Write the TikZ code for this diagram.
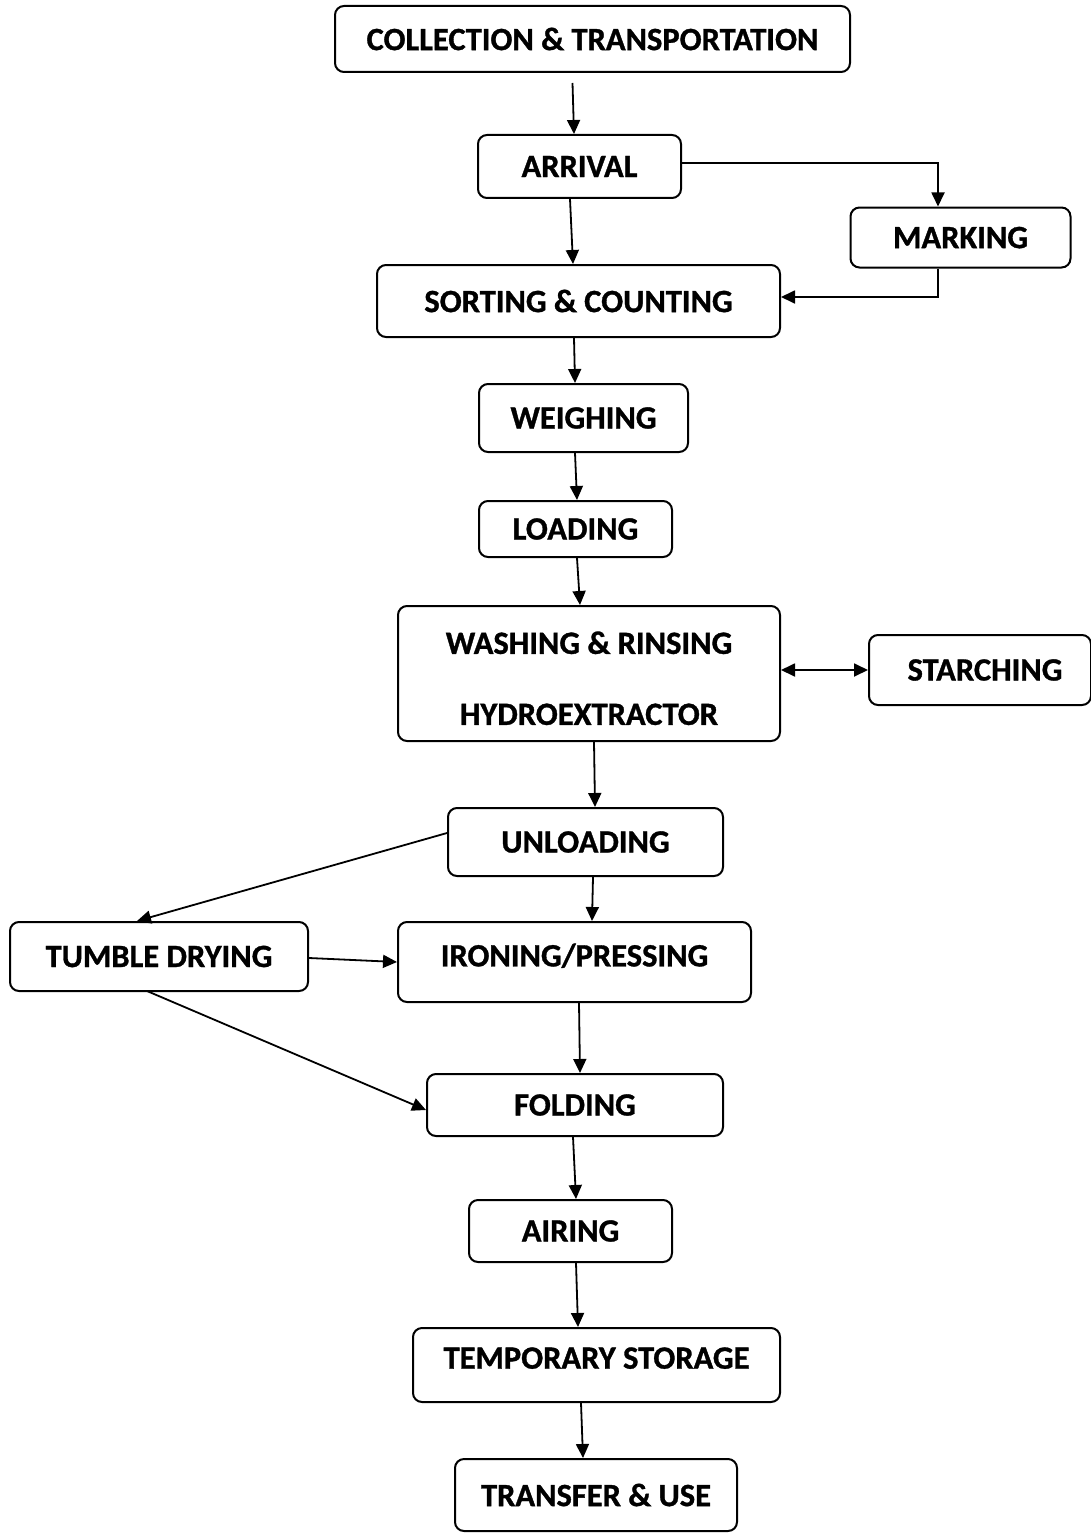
\documentclass[tikz,border=0pt]{standalone}
\usepackage{fontspec}
\setmainfont{Carlito}[BoldFeatures={FakeBold=1}]
\usetikzlibrary{arrows.meta}

\begin{document}
\begin{tikzpicture}[
  x=1pt,y=-1pt,
  stage/.style={draw,rounded corners=9pt,line width=2pt,inner sep=0pt,
    align=center,font=\fontsize{32.5}{39}\selectfont\bfseries},
  flow/.style={line width=1.8pt,-{Triangle[length=14pt,width=13pt]}},
]
\useasboundingbox (0,0) rectangle (1091,1533);
\node[stage,minimum width=515,minimum height=66] (coll) at (592.5,39) {COLLECTION \& TRANSPORTATION};
\node[stage,minimum width=203,minimum height=63] (arrival) at (579.5,166.5) {ARRIVAL};
\node[stage,minimum width=220,minimum height=60,text depth=-6pt] (marking) at (960.5,237.5) {MARKING};
\node[stage,minimum width=403,minimum height=72] (sorting) at (578.5,301) {SORTING \& COUNTING};
\node[stage,minimum width=209,minimum height=68] (weighing) at (583.5,418) {WEIGHING};
\node[stage,minimum width=193,minimum height=56] (loading) at (575.5,529) {LOADING};
\node[stage,minimum width=382,minimum height=135] (washing) at (589,673.5) {\rule{0pt}{32pt}WASHING \& RINSING\\[32pt]HYDROEXTRACTOR};
\node[stage,minimum width=222,minimum height=70] (starching) at (980,670) {\hspace{10pt}STARCHING};
\node[stage,minimum width=275,minimum height=68] (unloading) at (585.5,842) {UNLOADING};
\node[stage,minimum width=298,minimum height=69] (tumble) at (159,956.5) {TUMBLE DRYING};
\node[stage,minimum width=353,minimum height=80,text depth=14pt] (ironing) at (574.5,962) {IRONING/PRESSING};
\node[stage,minimum width=296,minimum height=62] (folding) at (575,1105) {FOLDING};
\node[stage,minimum width=203,minimum height=62] (airing) at (570.5,1231) {AIRING};
\node[stage,minimum width=367,minimum height=74,text depth=14pt] (storage) at (596.5,1365) {TEMPORARY STORAGE};
\node[stage,minimum width=282,minimum height=72] (transfer) at (596,1495) {TRANSFER \& USE};

% main line
\draw[flow] ([xshift=-20pt,yshift=-10pt]coll.south) -- ([xshift=-5.5pt]arrival.north);
\draw[flow] ([yshift=3.5pt]arrival.east) -| ([xshift=-22.5pt]marking.north);
\draw[flow] ([xshift=-22.5pt]marking.south) |- ([yshift=4pt]sorting.east);
\draw[flow] ([xshift=-9.5pt]arrival.south) -- ([xshift=-5.5pt]sorting.north);
\draw[flow] ([xshift=-4.5pt]sorting.south) -- ([xshift=-8.5pt]weighing.north);
\draw[flow] ([xshift=-8.5pt]weighing.south) -- ([xshift=1.5pt]loading.north);
\draw[flow] ([xshift=1.5pt]loading.south) -- ([xshift=-9pt]washing.north);
\draw[flow,{Triangle[length=14pt,width=13pt]}-{Triangle[length=14pt,width=13pt]}] ([yshift=3.5pt]washing.east) -- (starching.west);
\draw[flow] ([xshift=5pt]washing.south) -- ([xshift=9.5pt]unloading.north);
% drying branch
\draw[flow] ([yshift=9pt]unloading.west) -- ([xshift=-22pt]tumble.north);
\draw[flow] ([xshift=7.5pt]unloading.south) -- ([xshift=17.5pt]ironing.north);
\draw[flow] ([yshift=-1.5pt]tumble.east) -- (ironing.west);
\draw[flow] ([xshift=-12pt,yshift=1pt]tumble.south) -- ([yshift=-5pt]folding.west);
\draw[flow] ([xshift=4.5pt]ironing.south) -- ([xshift=5pt]folding.north);
\draw[flow] ([xshift=-2pt]folding.south) -- ([xshift=5.5pt]airing.north);
\draw[flow] ([xshift=5.5pt]airing.south) -- ([xshift=-18.5pt]storage.north);
\draw[flow] ([xshift=-15.5pt]storage.south) -- ([xshift=-13pt]transfer.north);
\end{tikzpicture}
\end{document}
